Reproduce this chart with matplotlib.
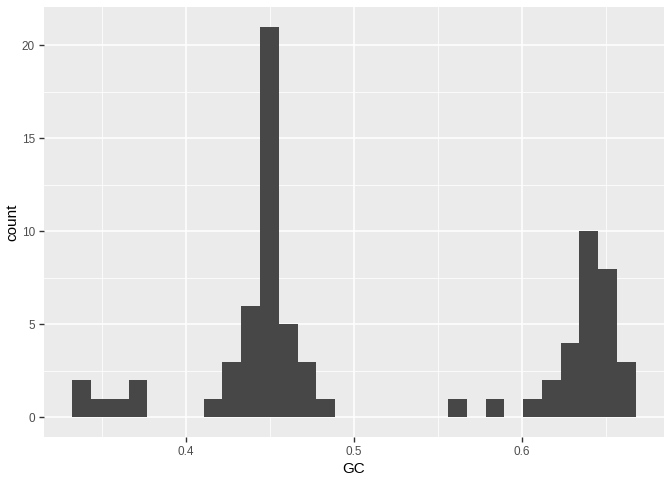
import numpy as np
import matplotlib.pyplot as plt
from matplotlib.ticker import MultipleLocator

plt.rcParams['font.family'] = ['Liberation Sans', 'DejaVu Sans']

# histogram of GC content, 30 bins
gc_min = 0.3321
gc_max = 0.6679
counts = [2, 1, 1, 2, 0, 0, 0, 1, 3, 6, 21, 5, 3, 1, 0,
          0, 0, 0, 0, 0, 1, 0, 1, 0, 1, 2, 4, 10, 8, 3]
x_ticks = [0.4, 0.5, 0.6]
y_ticks = [0, 5, 10, 15, 20]

edges = np.linspace(gc_min, gc_max, len(counts) + 1)

fig = plt.figure(figsize=(6.72, 4.8), dpi=100)
ax = fig.add_axes([44/672, 43/480, 620/672, 430/480])
ax.set_facecolor('#EBEBEB')

ax.hist(edges[:-1], bins=edges, weights=counts, color='#474747', zorder=3)

span = gc_max - gc_min
ax.set_xlim(gc_min - 0.05*span, gc_max + 0.05*span)
ax.set_ylim(-0.05*21, 21*1.05)

ax.set_xticks(x_ticks)
ax.set_xticklabels([str(t) for t in x_ticks])
ax.set_yticks(y_ticks)
ax.xaxis.set_minor_locator(MultipleLocator(0.05))
ax.yaxis.set_minor_locator(MultipleLocator(2.5))
ax.grid(which='major', color='white', linewidth=1.1, zorder=0)
ax.grid(which='minor', color='white', linewidth=0.55, zorder=0)
ax.set_axisbelow(True)

for s in ax.spines.values():
    s.set_visible(False)
ax.tick_params(which='major', length=3.5, width=1, color='#333333',
               labelsize=8.5, labelcolor='#4D4D4D', pad=3)
ax.tick_params(which='minor', length=0)

ax.set_xlabel('GC', fontsize=11, labelpad=3)
ax.set_ylabel('count', fontsize=11, labelpad=1.5)

fig.savefig('out.png', dpi=100)
